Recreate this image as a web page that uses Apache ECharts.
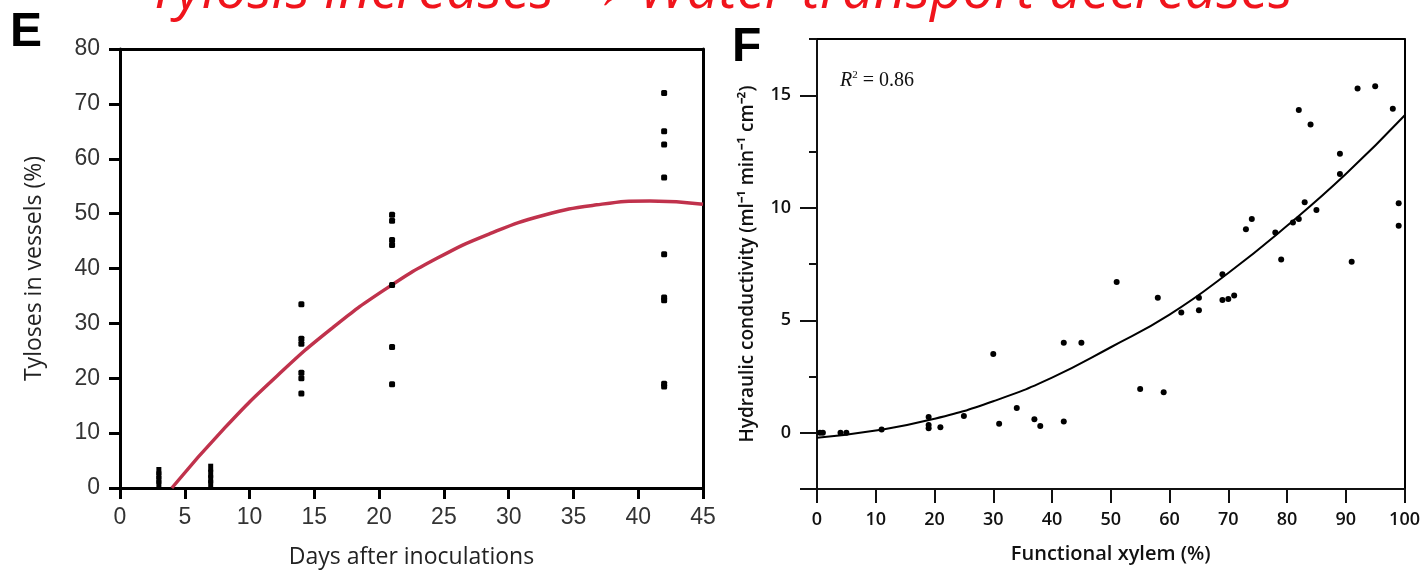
<!DOCTYPE html>
<html>
<head>
<meta charset="utf-8">
<title>Tyloses and water transport</title>
<script src="https://cdn.jsdelivr.net/npm/echarts@6/dist/echarts.min.js"></script>
<style>
  html, body { margin: 0; padding: 0; background: #fff; }
  #main { width: 1423px; height: 578px; }
</style>
</head>
<body>
<div id="main"></div>
<script>
// panel E - tyloses per sampling day
const tyloseDays = [14, 21, 42]
const tyloseValues = [
  [33.5, 27.2, 26.3, 21, 20, 17.2],
  [49.8, 48.7, 45.2, 44.3, 37, 25.7, 18.9],
  [72, 65, 62.6, 56.6, 42.6, 34.7, 34.2, 19, 18.5]
]
// near-zero readings stacked on days 3 and 7
const lowDays = [3, 7]
const lowValues = [
  [0.7, 1.5, 2.3, 3.1],
  [0.7, 1.6, 2.6, 3.7]
]
// red fitted curve
const tyloseFitX = [4, 8.1, 12.2, 16.3, 20.4, 24.5, 28.6, 32.7, 36.8, 40.9, 45]
const tyloseFitY = [0, 11, 20.6, 29, 36.1, 41.9, 46.4, 49.7, 51.6, 52.3, 51.7]

// panel F - functional xylem vs hydraulic conductivity
const xylemPct = [0.5, 1, 4, 5, 11, 19, 19, 19, 21, 25, 30, 31, 34, 37, 38, 42, 42, 45,
  51, 55, 58, 59, 62, 65, 65, 69, 69, 70, 71, 73, 74, 78, 79, 81, 82, 82, 83, 84, 85,
  89, 89, 91, 92, 95, 98, 99, 99]
const conductivity = [0, 0, 0, 0, 0.15, 0.7, 0.35, 0.2, 0.25, 0.75, 3.5, 0.4, 1.1, 0.6, 0.3, 0.5, 4, 4,
  6.7, 1.95, 6, 1.8, 5.35, 6, 5.45, 7.05, 5.9, 5.95, 6.1, 9.05, 9.5, 8.9, 7.7, 9.35, 9.5, 14.35, 10.25, 13.7, 9.9,
  12.4, 11.5, 7.6, 15.3, 15.4, 14.4, 10.2, 9.2]
const condFitX = [0, 10, 20, 30, 40, 50, 60, 70, 80, 90, 100]
const condFitY = [-0.22, 0.1, 0.62, 1.4, 2.45, 3.8, 5.25, 7.1, 9.2, 11.5, 14.1]
const condMajorTicks = [-2.5, 0, 5, 10, 15]
const condLabels = [0, 5, 10, 15]

const pairs = (xs, ys) => xs.map((x, i) => [x, ys[i]])
const groupPairs = (days, groups) => {
  const out = []
  days.forEach((d, i) => groups[i].forEach(v => out.push([d, v])))
  return out
}

const chart = echarts.init(document.getElementById('main'))

const numFont = 'Liberation Sans'
const nameFont = 'Open Sans'

// plain line used for the top/right frame of each panel
const frame = (gridIndex, position, min, max, width) => ({
  gridIndex, type: 'value', position, min, max,
  axisLine: { onZero: false, lineStyle: { color: '#000', width } },
  axisTick: { show: false },
  axisLabel: { show: false },
  splitLine: { show: false }
})

const option = {
  animation: false,
  backgroundColor: '#fff',
  grid: [
    { left: 120, top: 49, width: 583, height: 439 },
    { left: 817, top: 39, width: 595, height: 450 }
  ],
  xAxis: [
    {
      gridIndex: 0, type: 'value', min: 0, max: 45, interval: 5,
      name: 'Days after inoculations', nameLocation: 'middle', nameGap: 58,
      nameTextStyle: { fontFamily: nameFont, fontSize: 23, color: '#222' },
      axisLine: { onZero: false, lineStyle: { color: '#000', width: 3 } },
      axisTick: { length: 11, lineStyle: { color: '#000', width: 3 } },
      axisLabel: { margin: 18, fontFamily: numFont, fontSize: 23, color: '#333' },
      splitLine: { show: false }
    },
    {
      gridIndex: 1, type: 'value', min: 0, max: 100, interval: 10,
      name: 'Functional xylem (%)', nameLocation: 'middle', nameGap: 55,
      nameTextStyle: { fontFamily: nameFont, fontSize: 20, fontWeight: 600, color: '#111' },
      axisLine: { onZero: false, lineStyle: { color: '#111', width: 2 } },
      axisTick: { length: 14, lineStyle: { color: '#111', width: 2 } },
      axisLabel: { margin: 22, fontFamily: nameFont, fontSize: 18, fontWeight: 600, color: '#111' },
      splitLine: { show: false }
    },
    frame(0, 'top', 0, 45, 3),
    frame(1, 'top', 0, 100, 2)
  ],
  yAxis: [
    {
      gridIndex: 0, type: 'value', min: 0, max: 80, interval: 10,
      name: 'Tyloses in vessels (%)', nameLocation: 'middle', nameGap: 74,
      nameTextStyle: { fontFamily: nameFont, fontSize: 23, color: '#222' },
      axisLine: { onZero: false, lineStyle: { color: '#000', width: 3 } },
      axisTick: { length: 11, lineStyle: { color: '#000', width: 3 } },
      axisLabel: { margin: 20, fontFamily: numFont, fontSize: 23, color: '#333' },
      splitLine: { show: false }
    },
    {
      gridIndex: 1, type: 'value', min: -2.5, max: 17.5, interval: 2.5,
      name: 'Hydraulic conductivity (ml\u207B\u00B9 min\u207B\u00B9 cm\u207B\u00B2)', nameLocation: 'middle', nameGap: 60,
      nameTextStyle: { fontFamily: nameFont, fontSize: 19, fontWeight: 600, color: '#111' },
      axisLine: { onZero: false, lineStyle: { color: '#111', width: 2 } },
      axisTick: { length: 8, lineStyle: { color: '#111', width: 2 } },
      axisLabel: { margin: 26, fontFamily: nameFont, fontSize: 18, fontWeight: 600, color: '#111', customValues: condLabels },
      splitLine: { show: false }
    },
    {
      // longer ticks on the labelled values
      gridIndex: 1, type: 'value', min: -2.5, max: 17.5, interval: 2.5,
      position: 'left',
      axisLine: { show: false, onZero: false },
      axisTick: { length: 17, lineStyle: { color: '#111', width: 2 }, customValues: condMajorTicks },
      axisLabel: { show: false },
      splitLine: { show: false }
    },
    frame(0, 'right', 0, 80, 3),
    frame(1, 'right', -2.5, 17.5, 2)
  ],
  series: [
    {
      type: 'line', xAxisIndex: 0, yAxisIndex: 0,
      data: pairs(tyloseFitX, tyloseFitY), smooth: true, symbol: 'none',
      lineStyle: { color: '#c0324c', width: 3.5 }, z: 2
    },
    {
      type: 'scatter', xAxisIndex: 0, yAxisIndex: 0,
      data: groupPairs(tyloseDays, tyloseValues),
      symbol: 'roundRect', symbolSize: [6, 6],
      itemStyle: { color: '#000', opacity: 1 }, z: 3
    },
    {
      type: 'scatter', xAxisIndex: 0, yAxisIndex: 0,
      data: groupPairs(lowDays, lowValues),
      symbol: 'rect', symbolSize: [5, 8],
      itemStyle: { color: '#000', opacity: 1 }, z: 3
    },
    {
      type: 'line', xAxisIndex: 1, yAxisIndex: 1,
      data: pairs(condFitX, condFitY), smooth: true, symbol: 'none',
      lineStyle: { color: '#000', width: 2 }, z: 2
    },
    {
      type: 'scatter', xAxisIndex: 1, yAxisIndex: 1,
      data: pairs(xylemPct, conductivity),
      symbol: 'circle', symbolSize: 6,
      itemStyle: { color: '#000', opacity: 1 }, z: 3
    }
  ],
  graphic: [
    {
      type: 'text', left: 148, top: -36,
      style: {
        text: 'Tylosis increases \u2192 Water transport decreases',
        font: 'italic 56px "Open Sans"', fill: '#f0141c'
      }
    },
    {
      type: 'text', left: 10, top: 9,
      style: { text: 'E', font: 'bold 48px "Liberation Sans"', fill: '#000' }
    },
    {
      type: 'text', left: 732, top: 24,
      style: { text: 'F', font: 'bold 48px "Liberation Sans"', fill: '#000' }
    },
    {
      type: 'text', left: 840, top: 70,
      style: {
        text: '{r|R}{s|2}{n| = 0.86}',
        rich: {
          r: { fontFamily: 'Liberation Serif', fontStyle: 'italic', fontSize: 20, fill: '#111' },
          s: { fontFamily: 'Liberation Serif', fontSize: 11, verticalAlign: 'top', fill: '#111', padding: [0, 0, 10, 0] },
          n: { fontFamily: 'Liberation Serif', fontSize: 20, fill: '#111' }
        }
      }
    }
  ]
}

chart.setOption(option)
</script>
</body>
</html>
